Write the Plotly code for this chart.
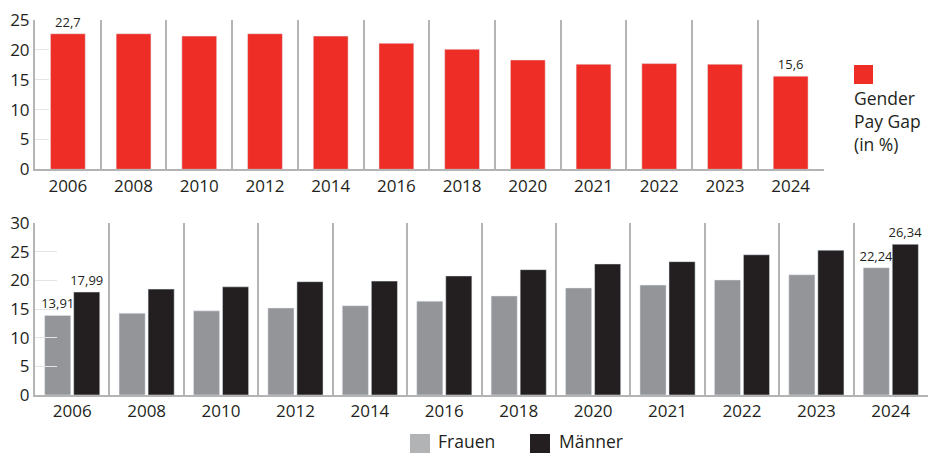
import plotly.graph_objects as go

# ---- data ----
years = ["2006", "2008", "2010", "2012", "2014", "2016", "2018", "2020", "2021", "2022", "2023", "2024"]
gap_pct = [22.7, 22.7, 22.3, 22.7, 22.3, 21.1, 20.1, 18.3, 17.6, 17.7, 17.6, 15.6]
frauen = [13.91, 14.3, 14.7, 15.2, 15.6, 16.4, 17.3, 18.7, 19.2, 20.1, 21.0, 22.24]
maenner = [17.99, 18.5, 18.9, 19.8, 19.9, 20.8, 21.9, 22.9, 23.3, 24.5, 25.3, 26.34]
labelled_years = {"2006", "2024"}

W, H = 928, 453
def px(x):
    return x / W
def py(y):
    return 1 - y / H

RED = "#EE2D26"
GREY = "#939598"
BLACK = "#231F20"
LEGGREY = "#B2B3B5"
TXT = "#231F20"
LINE = "#B4B4B4"
FONT = "Open Sans"

def fmt(v, nd):
    return f"{v:.{nd}f}".replace(".", ",")

def labels(vals, nd):
    return [fmt(v, nd) if y in labelled_years else "" for y, v in zip(years, vals)]

fig = go.Figure()
fig.add_trace(go.Bar(
    x=years, y=gap_pct, marker_color=RED, width=0.53,
    text=labels(gap_pct, 1), textposition="outside", cliponaxis=False,
    constraintext="none", textfont=dict(size=13, color=TXT, family=FONT),
    xaxis="x", yaxis="y", showlegend=False, hoverinfo="x+y"))
fig.add_trace(go.Bar(
    x=years, y=frauen, marker_color=GREY, name="Frauen",
    text=labels(frauen, 2), textposition="outside", cliponaxis=False,
    constraintext="none", textfont=dict(size=13, color=TXT, family=FONT),
    xaxis="x2", yaxis="y2", showlegend=False))
fig.add_trace(go.Bar(
    x=years, y=maenner, marker_color=BLACK, name="Männer",
    text=labels(maenner, 2), textposition="outside", cliponaxis=False,
    constraintext="none", textfont=dict(size=13, color=TXT, family=FONT),
    xaxis="x2", yaxis="y2", showlegend=False))

xcommon = dict(type="category", tickson="boundaries", showgrid=True, gridcolor=LINE, gridwidth=1.5,
               showline=True, linecolor=LINE, linewidth=2, ticks="", fixedrange=True, automargin=False,
               tickfont=dict(size=17, color=TXT, family=FONT))
ycommon = dict(showgrid=False, zeroline=False, showline=True, linecolor=LINE, linewidth=2,
               ticks="inside", tickcolor="#E4E4E4", tickwidth=1, dtick=5, automargin=False,
               tickfont=dict(size=17, color=TXT, family=FONT), fixedrange=True)

fig.update_layout(
    width=W, height=H, margin=dict(l=0, r=0, t=0, b=0, autoexpand=False),
    paper_bgcolor="white", plot_bgcolor="white",
    barmode="group", bargap=0.22, bargroupgap=0.1,
    font=dict(family=FONT, color=TXT),
    xaxis=dict(domain=[px(35), px(823.5)], anchor="y", **xcommon),
    yaxis=dict(domain=[py(169.3), py(20)], anchor="x", range=[0, 25], ticklen=14, **ycommon),
    xaxis2=dict(domain=[px(35), 1.0], anchor="y2", **xcommon),
    yaxis2=dict(domain=[py(395), py(223.3)], anchor="x2", range=[0, 30], ticklen=22, **ycommon),
)

# legends
shapes = [
    dict(type="rect", xref="paper", yref="paper", x0=px(854), x1=px(873), y0=py(84), y1=py(65),
         fillcolor=RED, line=dict(width=0)),
    dict(type="rect", xref="paper", yref="paper", x0=px(410), x1=px(430), y0=py(453), y1=py(434),
         fillcolor=LEGGREY, line=dict(width=0)),
    dict(type="rect", xref="paper", yref="paper", x0=px(530), x1=px(550), y0=py(453), y1=py(434),
         fillcolor=BLACK, line=dict(width=0)),
]
ann = [
    dict(text="Gender<br>Pay Gap<br>(in %)", xref="paper", yref="paper", x=px(852), y=py(121),
         xanchor="left", yanchor="middle", align="left", showarrow=False,
         font=dict(size=17.5, color=TXT, family=FONT)),
    dict(text="Frauen", xref="paper", yref="paper", x=px(436), y=py(441),
         xanchor="left", yanchor="middle", showarrow=False,
         font=dict(size=17.5, color=TXT, family=FONT)),
    dict(text="Männer", xref="paper", yref="paper", x=px(557), y=py(441),
         xanchor="left", yanchor="middle", showarrow=False,
         font=dict(size=17.5, color=TXT, family=FONT)),
]
fig.update_layout(shapes=shapes, annotations=ann)

fig.write_html("out.html")
